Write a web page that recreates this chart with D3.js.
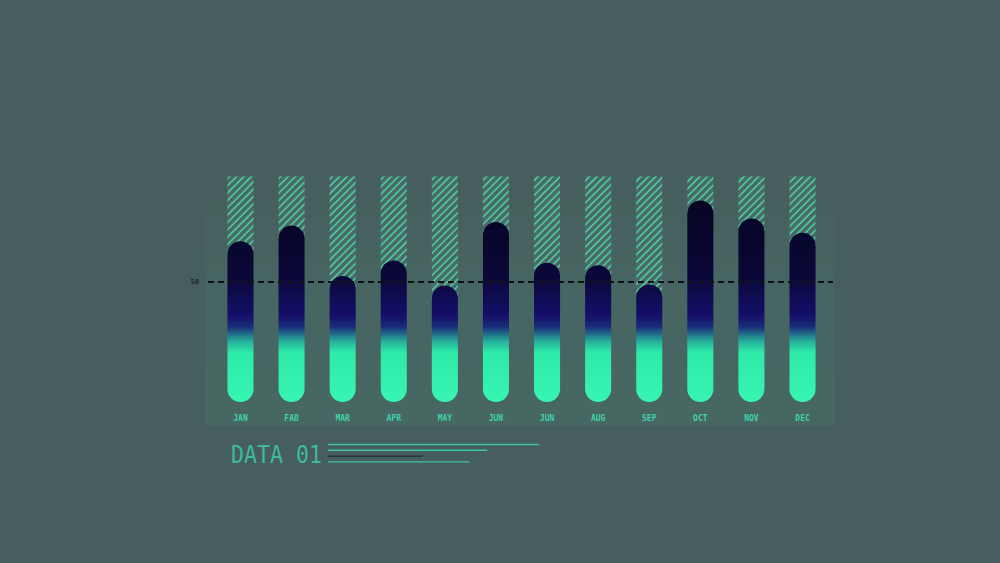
<!DOCTYPE html>
<html>
<head>
<meta charset="utf-8">
<script src="https://cdn.jsdelivr.net/npm/d3@7"></script>
<style>
  html, body { margin: 0; padding: 0; background: #465e5d; }
  svg { display: block; }
</style>
</head>
<body>
<svg id="chart" width="1000" height="563"></svg>
<script>
// Data
var months = ["JAN", "FAB", "MAR", "APR", "MAY", "JUN", "JUN", "AUG", "SEP", "OCT", "NOV", "DEC"];
var values = [67, 73.5, 52.5, 59, 48.5, 75, 58, 57, 49, 84, 76.5, 70.5];
var hatchMax = [94, 94, 94, 94, 94, 94, 94, 94, 94, 94, 94, 94];
var refValue = 50;
var refLabel = "50";
var title = "DATA 01";
// decorative rule lengths next to the title (fraction of longest)
var ruleLengths = [1, 0.755, 0.45, 0.67];

var svg = d3.select("#chart");
var defs = svg.append("defs");

// Scales
var x = d3.scaleBand()
  .domain(d3.range(months.length))
  .range([207, 836])
  .paddingInner(0.49)
  .paddingOuter(0.4);

var y = d3.scaleLinear()
  .domain([0, 100])
  .range([402, 162]);

// panel gradient
var pg = defs.append("linearGradient")
  .attr("id", "panelGrad")
  .attr("x1", 0).attr("y1", 0).attr("x2", 0).attr("y2", 1);
pg.append("stop").attr("offset", "0%").attr("stop-color", "#4fb89a").attr("stop-opacity", 0.0);
pg.append("stop").attr("offset", "45%").attr("stop-color", "#4fb89a").attr("stop-opacity", 0.08);
pg.append("stop").attr("offset", "100%").attr("stop-color", "#4fb89a").attr("stop-opacity", 0.1);

// bar gradient - fixed in page space so all bars change colour at the same height
var bg = defs.append("linearGradient")
  .attr("id", "barGrad")
  .attr("gradientUnits", "userSpaceOnUse")
  .attr("x1", 0).attr("y1", y(90)).attr("x2", 0).attr("y2", y(0));
[
  [0, "#05051f"],
  [0.42, "#0a0838"],
  [0.6, "#150f6a"],
  [0.65, "#1a2a78"],
  [0.72, "#26b09a"],
  [0.77, "#2eeaa8"],
  [1, "#38f5b4"]
].forEach(function(s) {
  bg.append("stop").attr("offset", s[0]).attr("stop-color", s[1]);
});

// hatch pattern
var pat = defs.append("pattern")
  .attr("id", "hatch")
  .attr("patternUnits", "userSpaceOnUse")
  .attr("width", 5.2).attr("height", 5.2)
  .attr("patternTransform", "rotate(45)");
pat.append("rect")
  .attr("width", 5.2).attr("height", 5.2)
  .attr("fill", "#4a6a66");
pat.append("line")
  .attr("x1", 1).attr("y1", 0).attr("x2", 1).attr("y2", 5.2)
  .attr("stroke", "#4dd2aa")
  .attr("stroke-width", 1.5);

// panel
svg.append("rect")
  .attr("x", x.range()[0] - 2)
  .attr("y", y(94))
  .attr("width", x.range()[1] - x.range()[0] + 1)
  .attr("height", 425 - y(94))
  .attr("fill", "url(#panelGrad)");

// hatched background bars
svg.append("g")
  .selectAll("rect")
  .data(hatchMax)
  .enter().append("rect")
  .attr("x", function(d, i) { return x(i); })
  .attr("y", function(d) { return y(d); })
  .attr("width", x.bandwidth())
  .attr("height", function(d, i) { return y(values[i]) - y(d) + x.bandwidth() / 2; })
  .attr("fill", "url(#hatch)");

// bars
svg.append("g")
  .selectAll("rect")
  .data(values)
  .enter().append("rect")
  .attr("x", function(d, i) { return x(i); })
  .attr("y", function(d) { return y(d); })
  .attr("width", x.bandwidth())
  .attr("height", function(d) { return y(0) - y(d); })
  .attr("rx", x.bandwidth() / 2)
  .attr("fill", "url(#barGrad)");

// reference line
svg.append("line")
  .attr("x1", x.range()[0] + 1)
  .attr("x2", x.range()[1] - 3)
  .attr("y1", y(refValue))
  .attr("y2", y(refValue))
  .attr("stroke", "#0c1214")
  .attr("stroke-width", 2)
  .attr("stroke-dasharray", "6,4");

svg.append("text")
  .attr("x", 199)
  .attr("y", y(refValue))
  .attr("dy", "0.35em")
  .attr("text-anchor", "end")
  .attr("font-family", "DejaVu Sans Mono")
  .attr("font-size", 7)
  .attr("font-weight", "bold")
  .attr("fill", "#1b2a2b")
  .text(refLabel);

// month axis
var axis = svg.append("g")
  .attr("transform", "translate(0," + 412 + ")")
  .call(d3.axisBottom(x).tickSize(0).tickFormat(function(i) { return months[i]; }));
axis.select(".domain").remove();
axis.selectAll("text")
  .attr("font-family", "DejaVu Sans Mono")
  .attr("font-size", 8)
  .attr("font-weight", "bold")
  .attr("fill", "#3fd2a8");

// title
svg.append("text")
  .attr("x", 231)
  .attr("y", 463)
  .attr("font-family", "DejaVu Sans Mono")
  .attr("font-size", 24)
  .attr("textLength", 91)
  .attr("lengthAdjust", "spacingAndGlyphs")
  .attr("fill", "#3dbb98")
  .text(title);

var ruleX = d3.scaleLinear().domain([0, 1]).range([328, 539]);
svg.append("g")
  .selectAll("line")
  .data(ruleLengths)
  .enter().append("line")
  .attr("x1", ruleX(0))
  .attr("x2", function(d) { return ruleX(d); })
  .attr("y1", function(d, i) { return 444.5 + i * 5.8; })
  .attr("y2", function(d, i) { return 444.5 + i * 5.8; })
  .attr("stroke", function(d, i) { return i === 2 ? "#1e2a2c" : "#3fc3a0"; })
  .attr("stroke-width", 1.4);
</script>
</body>
</html>
